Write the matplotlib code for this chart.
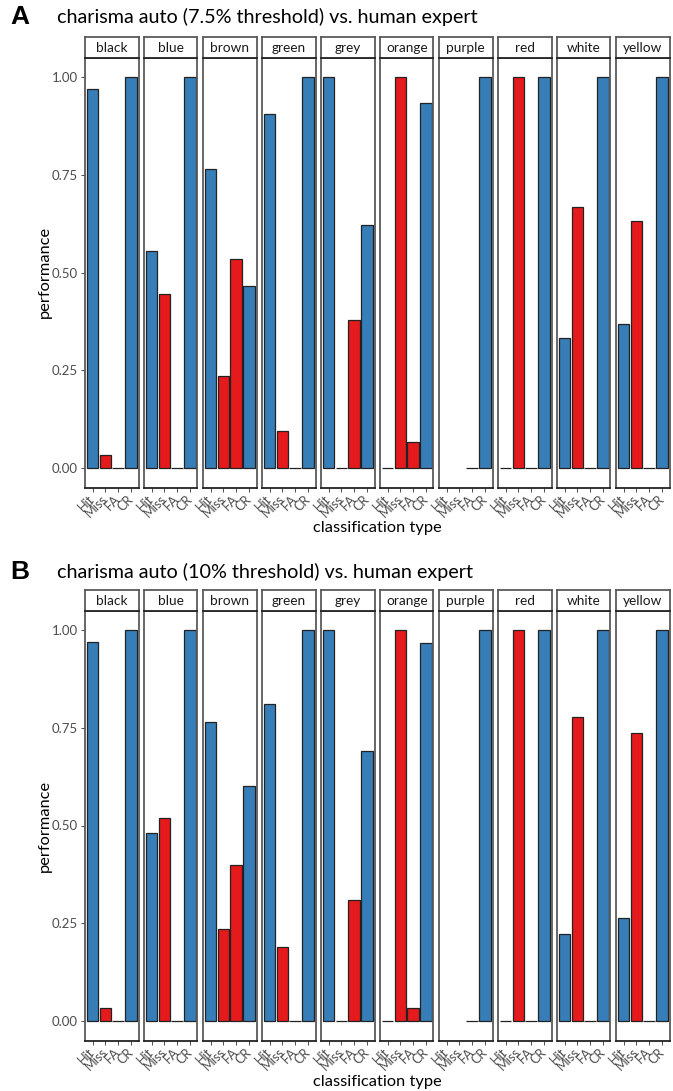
import numpy as np
import matplotlib
matplotlib.use("Agg")
import matplotlib.pyplot as plt

colours = ["black", "blue", "brown", "green", "grey", "orange", "purple", "red", "white", "yellow"]
types = ["Hit", "Miss", "FA", "CR"]
nan = np.nan

# Panel A: 7.5% threshold
hit_a = [0.969, 0.556, 0.765, 0.905, 1.0, 0.0, nan, 0.0, 0.333, 0.368]
miss_a = [0.033, 0.444, 0.235, 0.095, 0.0, 1.0, nan, 1.0, 0.667, 0.632]
fa_a = [0.0, 0.0, 0.534, 0.0, 0.379, 0.067, 0.0, 0.0, 0.0, 0.0]
cr_a = [1.0, 1.0, 0.466, 1.0, 0.621, 0.933, 1.0, 1.0, 1.0, 1.0]

# Panel B: 10% threshold
hit_b = [0.969, 0.481, 0.765, 0.81, 1.0, 0.0, nan, 0.0, 0.222, 0.263]
miss_b = [0.032, 0.519, 0.235, 0.19, 0.0, 1.0, nan, 1.0, 0.778, 0.737]
fa_b = [0.0, 0.0, 0.40, 0.0, 0.31, 0.033, 0.0, 0.0, 0.0, 0.0]
cr_b = [1.0, 1.0, 0.60, 1.0, 0.69, 0.967, 1.0, 1.0, 1.0, 1.0]

titles = ["charisma auto (7.5% threshold) vs. human expert",
          "charisma auto (10% threshold) vs. human expert"]
letters = ["A", "B"]
yticks = [0.0, 0.25, 0.5, 0.75, 1.0]
ytick_labels = ["0.00", "0.25", "0.50", "0.75", "1.00"]

BLUE = "#377EB8"
RED = "#E41A1C"
fills = [BLUE, RED, RED, BLUE]

W, H = 673, 1091
FONT = "Lato"
TICKC = "#4D4D4D"
BORDER = "#5a5a5a"

fig = plt.figure(figsize=(W / 100, H / 100), dpi=100)


def ax_px(x0, y0, x1, y1):
    return fig.add_axes([x0 / W, 1 - y1 / H, (x1 - x0) / W, (y1 - y0) / H])


panels = [
    dict(data=(hit_a, miss_a, fa_a, cr_a), strip_top=37, top=57.5, bottom=487.5,
         title_y=17, xlab_y=528, ylab_y=272),
    dict(data=(hit_b, miss_b, fa_b, cr_b), strip_top=589.5, top=610.5, bottom=1040.5,
         title_y=572, xlab_y=1082, ylab_y=826),
]

left0 = 85
step = 59.0
pw = 53.5

for pi, p in enumerate(panels):
    hit, miss, fa, cr = p["data"]
    for ci, col in enumerate(colours):
        x0 = left0 + ci * step
        x1 = x0 + pw
        ax = ax_px(x0, p["top"], x1, p["bottom"])
        vals = [hit[ci], miss[ci], fa[ci], cr[ci]]
        xs = np.arange(len(types))
        for xi, v, fc in zip(xs, vals, fills):
            if np.isnan(v):
                continue
            ax.bar(xi, v, width=0.9, color=fc, edgecolor="#222222", linewidth=0.9)
        ax.set_xlim(-0.6, 3.6)
        ax.set_ylim(-0.05, 1.05)
        ax.set_xticks(xs)
        ax.set_xticklabels(types, rotation=45, ha="right", va="center",
                           rotation_mode="anchor", fontsize=9.2, color=TICKC,
                           family=FONT)
        ax.tick_params(axis="x", length=3, width=0.6, color="#333333", pad=4)
        if ci == 0:
            ax.set_yticks(yticks)
            ax.set_yticklabels(ytick_labels, fontsize=9.5, color=TICKC, family=FONT)
            ax.tick_params(axis="y", length=3, width=0.6, color="#333333", pad=2)
        else:
            ax.set_yticks([])
        for s in ax.spines.values():
            s.set_color(BORDER)
            s.set_linewidth(1.3)
        ax.spines["bottom"].set_color("#222222")
        # strip
        sax = ax_px(x0, p["strip_top"], x1, p["top"])
        sax.set_xticks([])
        sax.set_yticks([])
        for s in sax.spines.values():
            s.set_color(BORDER)
            s.set_linewidth(1.3)
        sax.spines["bottom"].set_color("#222222")
        sax.text(0.5, 0.45, col, ha="center", va="center", fontsize=9.8,
                 color="#1a1a1a", family=FONT, transform=sax.transAxes)

    fig.text(57 / W, 1 - p["title_y"] / H, titles[pi], ha="left", va="center",
             fontsize=14.2, color="black", family=FONT)
    fig.text(10 / W, 1 - p["title_y"] / H, letters[pi], ha="left", va="center",
             fontsize=19, fontweight="bold", color="black", family="Liberation Sans")
    fig.text(377 / W, 1 - p["xlab_y"] / H, "classification type", ha="center",
             va="center", fontsize=11.8, color="black", family=FONT)
    fig.text(45 / W, 1 - p["ylab_y"] / H, "performance", ha="center",
             va="center", rotation=90, fontsize=11.8, color="black", family=FONT)

fig.savefig("out.png", dpi=100, facecolor="white")
